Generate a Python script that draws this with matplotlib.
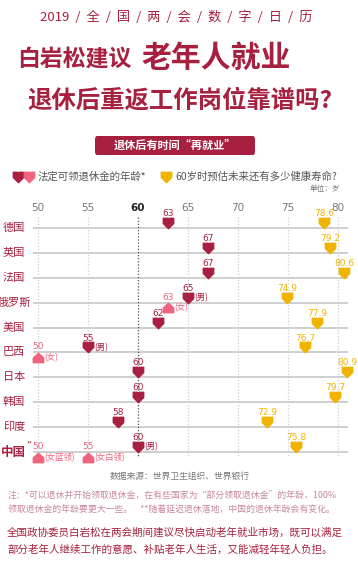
import matplotlib.pyplot as plt
from matplotlib.path import Path
from matplotlib.patches import FancyBboxPatch

plt.rcParams['font.family'] = ['Noto Sans CJK SC', 'DejaVu Sans']

countries = ["德国", "英国", "法国", "俄罗斯", "美国", "巴西", "日本", "韩国", "印度", "中国"]
pension_age = [63, 67, 67, 65, 62, 55, 60, 60, 58, 60]
pension_note = {"俄罗斯": "(男)", "巴西": "(男)", "中国": "(男)"}
# women where different: (country, age, note)
women_age = [("俄罗斯", 63, "(女)"), ("巴西", 50, "(女)"),
             ("中国", 50, "(女蓝领)"), ("中国", 55, "(女白领)")]
health_life = [78.6, 79.2, 80.6, 74.9, 77.9, 76.7, 80.9, 79.7, 72.9, 75.8]
xticks = [50, 55, 60, 65, 70, 75, 80]

DARK = "#a8203f"
PINK = "#f0637e"
YELLOW = "#f0b400"

W, H = 358, 585
fig = plt.figure(figsize=(W / 100, H / 100), dpi=100)


def fx(x):
    return x / W


def fy(y):
    return 1 - y / H


# markers
down = Path([(-1, 1), (-0.15, 1), (0, 0.8), (0.15, 1), (1, 1), (1, 0), (0, -1), (-1, 0), (-1, 1)],
            [1, 2, 2, 2, 2, 2, 2, 2, 79])
up = Path([(-1, -0.8), (1, -0.8), (1, 0.1), (0, 1), (-1, 0.1), (-1, -0.8)],
          [1, 2, 2, 2, 2, 79])

# header
fig.text(fx(176), fy(17), "2019  /  全  /  国  /  两  /  会  /  数  /  字  /  日  /  历",
         ha="center", va="center", fontsize=9.5, color=DARK)
fig.text(fx(17), fy(60), "白岩松建议", ha="left", va="center", fontsize=16.5,
         fontweight="bold", color=DARK)
fig.text(fx(141), fy(58), "老年人就业", ha="left", va="center", fontsize=21.5,
         fontweight="bold", color=DARK)
fig.text(fx(27), fy(101), "退休后重返工作岗位靠谱吗?", ha="left", va="center", fontsize=17.6,
         fontweight="bold", color=DARK)

banner = FancyBboxPatch((fx(95), fy(155)), fx(160), 19 / H,
                        boxstyle="round,pad=0,rounding_size=0.006",
                        transform=fig.transFigure, facecolor=DARK, edgecolor="none")
fig.patches.append(banner)
fig.text(fx(175), fy(145.5), "退休后有时间“再就业”", ha="center", va="center",
         fontsize=8, fontweight="bold", color="white")

# legend
fig.lines.append(plt.Line2D([fx(18)], [fy(177)], marker=down, markersize=7.5, color=DARK,
                            transform=fig.transFigure))
fig.lines.append(plt.Line2D([fx(29)], [fy(177)], marker=down, markersize=7.5, color=PINK,
                            transform=fig.transFigure))
fig.text(fx(38), fy(177), "法定可领退休金的年龄*", ha="left", va="center", fontsize=7.5,
         color="#555555")
fig.lines.append(plt.Line2D([fx(166)], [fy(177)], marker=down, markersize=7.5, color=YELLOW,
                            transform=fig.transFigure))
fig.text(fx(175), fy(177), "60岁时预估未来还有多少健康寿命?", ha="left", va="center",
         fontsize=7.5, color="#555555")
fig.text(fx(340), fy(189), "单位：岁", ha="right", va="center", fontsize=5.5, color="#777777")

# chart
ax = fig.add_axes([fx(33), fy(462), fx(315), (462 - 212) / H])
ax.set_xlim(49.5, 81.0)
ax.set_ylim(9.40, -0.643)
ax.axis("off")

num_font = ["Liberation Sans Narrow", "DejaVu Sans"]

for t in xticks:
    ax.plot([t, t], [-0.45, 9.2], ls=(0, (1, 1.5)), lw=0.9,
            color="#555555" if t == 60 else "#cccccc", zorder=1)
    ax.text(t, -0.82, str(t), ha="center", va="center", fontsize=7.5,
            color="#222222" if t == 60 else "#777777",
            fontweight="bold" if t == 60 else "normal", clip_on=False,
            family=num_font)

for i, c in enumerate(countries):
    ax.axhline(i, color="#cccccc", lw=1.3, zorder=0)
    if c == "中国":
        ax.text(47.5, i, c, ha="center", va="center", fontsize=9, color=DARK,
                fontweight="bold", clip_on=False)
        ax.text(48.85, i - 0.3, "**", ha="left", va="center", fontsize=4.5, color=DARK,
                clip_on=False)
    else:
        ax.text(47.6, i, c, ha="center", va="center", fontsize=8, color=DARK,
                clip_on=False)

# pension age (men / general)
for i, (c, v) in enumerate(zip(countries, pension_age)):
    ax.plot(v, i - 0.2, marker=down, markersize=7.5, color=DARK, zorder=3)
    ax.text(v, i - 0.58, str(v), ha="center", va="center", fontsize=6.5, color=DARK,
            family=num_font)
    if c in pension_note:
        ax.text(v + 0.65, i - 0.2, pension_note[c], ha="left", va="center", fontsize=6,
                color=DARK)

# women
for c, v, note in women_age:
    i = countries.index(c)
    ax.plot(v, i + 0.22, marker=up, markersize=7.5, color=PINK, zorder=3, clip_on=False)
    ax.text(v, i - 0.22, str(v), ha="center", va="center", fontsize=6.5, color=PINK,
            family=num_font)
    ax.text(v + 0.6, i + 0.22, note, ha="left", va="center", fontsize=6, color=PINK)

# healthy life expectancy
for i, v in enumerate(health_life):
    ax.plot(v, i - 0.2, marker=down, markersize=7.5, color=YELLOW, zorder=3, clip_on=False)
    ax.text(v, i - 0.58, f"{v:.1f}", ha="center", va="center", fontsize=6.5, color=YELLOW,
            family=num_font)

# footer
fig.text(fx(180), fy(476), "数据来源：世界卫生组织、世界银行", ha="center", va="center",
         fontsize=6.3, color="#777777")
fig.text(fx(8), fy(496), "注：*可以退休并开始领取退休金，在有些国家为“部分领取退休金”的年龄，100%",
         ha="left", va="center", fontsize=6.4, color="#c9889a")
fig.text(fx(8), fy(510), "领取退休金的年龄要更大一些。    **随着延迟退休落地，中国的退休年龄会有变化。",
         ha="left", va="center", fontsize=6.4, color="#c9889a")
fig.text(fx(7), fy(532), "全国政协委员白岩松在两会期间建议尽快启动老年就业市场，既可以满足",
         ha="left", va="center", fontsize=7.6, color=DARK)
fig.text(fx(7), fy(550), "部分老年人继续工作的意愿、补贴老年人生活，又能减轻年轻人负担。",
         ha="left", va="center", fontsize=7.6, color=DARK)

fig.savefig("out.png", dpi=100)
